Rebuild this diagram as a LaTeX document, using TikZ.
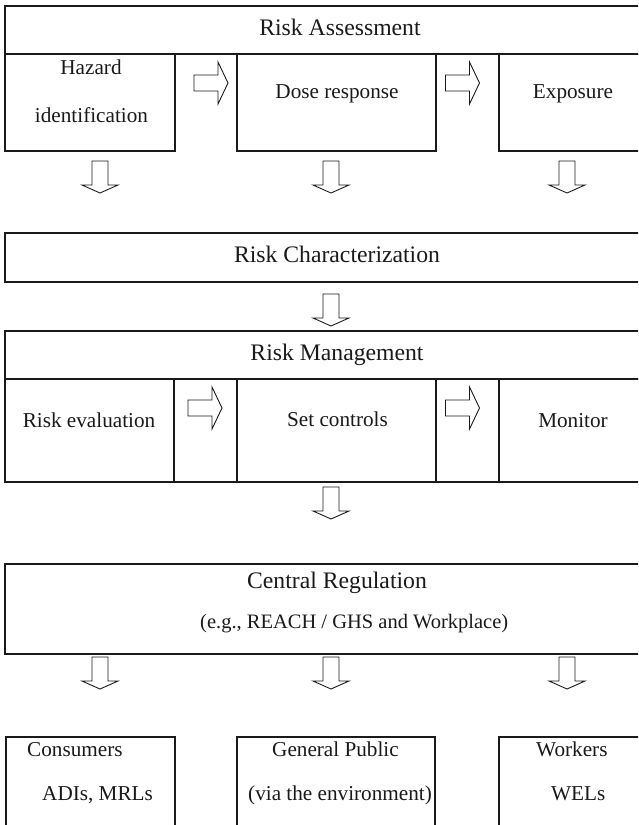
\documentclass[tikz,border=0pt]{standalone}
\usepackage{fontspec}
\setmainfont{Liberation Serif}
\definecolor{ink}{HTML}{1A1A1A}
\newcommand\blkright[1]{\draw[blk] (#1) ++(-17,-8) -- ++(24,0) -- ++(0,-13) -- ++(10,21) -- ++(-10,21) -- ++(0,-13) -- ++(-24,0) -- cycle;}
\newcommand\blkdown[1]{\draw[blk] (#1) ++(-8,0) -- ++(16,0) -- ++(0,24) -- ++(10,0) -- ++(-18,8) -- ++(-18,-8) -- ++(10,0) -- cycle;}
\begin{document}
\begin{tikzpicture}[x=1pt,y=-1pt,
  box/.style={draw=ink,line width=1.1pt,inner sep=0pt,outer sep=0pt,anchor=north west},
  blk/.style={draw=ink,line width=0.9pt,fill=white,line join=miter},
  hd/.style={text=ink,font=\fontsize{23.7}{28}\selectfont,inner sep=0pt,anchor=base},
  tx/.style={text=ink,font=\fontsize{21.2}{25}\selectfont,inner sep=0pt,anchor=base},
  txw/.style={tx,anchor=base west}]
\useasboundingbox (0,0) rectangle (638,825);
\clip (0,0) rectangle (638,825);
\fill[white] (0,0) rectangle (638,825);
% Risk Assessment
\node[box,minimum width=655pt,minimum height=48pt] (ra) at (5,6) {};
\node[box,minimum width=170pt,minimum height=97pt] (haz) at (5,54) {};
\node[box,minimum width=199pt,minimum height=97pt] (dose) at (237,54) {};
\node[box,minimum width=161pt,minimum height=97pt] (expo) at (499,54) {};
\node[hd] (tra) at (340,35) {Risk Assessment};
\node[tx] (thaz1) at (91,74) {Hazard};
\node[tx] (thaz2) at (91.5,122) {identification};
\node[tx] (tdose) at (337,98) {Dose response};
\node[tx] (texpo) at (573,98) {Exposure};
% Risk Characterization
\node[box,minimum width=655pt,minimum height=49pt] (rc) at (5,233) {};
\node[hd] (trc) at (337,262) {Risk Characterization};
% Risk Management
\node[box,minimum width=655pt,minimum height=48pt] (rm) at (5,331) {};
\node[box,minimum width=169pt,minimum height=103pt] (reval) at (5,379) {};
\node[box,minimum width=63pt,minimum height=103pt] (c1) at (174,379) {};
\node[box,minimum width=199pt,minimum height=103pt] (setc) at (237,379) {};
\node[box,minimum width=63pt,minimum height=103pt] (c2) at (436,379) {};
\node[box,minimum width=161pt,minimum height=103pt] (mon) at (499,379) {};
\node[hd] (trm) at (337,360) {Risk Management};
\node[tx] (treval) at (89,427) {Risk evaluation};
\node[tx] (tsetc) at (337.5,426) {Set controls};
\node[tx] (tmon) at (573,427) {Monitor};
% Central Regulation
\node[box,minimum width=655pt,minimum height=90pt] (cr) at (5,564) {};
\node[hd] (tcr) at (337,588) {Central Regulation};
\node[txw,font=\fontsize{20.5}{24}\selectfont] (tcr2) at (200,628) {(e.g., REACH / GHS and Workplace)};
% Bottom boxes
\node[box,minimum width=169pt,minimum height=120pt] (cons) at (6,737) {};
\node[box,minimum width=198pt,minimum height=120pt] (gp) at (237,737) {};
\node[box,minimum width=161pt,minimum height=120pt] (work) at (499,737) {};
\node[txw] (tcons1) at (27,756) {Consumers};
\node[txw] (tcons2) at (42,800) {ADIs, MRLs};
\node[txw] (tgp1) at (272,756) {General Public};
\node[txw] (tgp2) at (248,800) {(via the environment)};
\node[txw] (twork1) at (536,756) {Workers};
\node[txw] (twork2) at (551,800) {WELs};
% block arrows
\coordinate (a1) at (211,83);
\coordinate (a2) at (462.5,83);
\coordinate (a3) at (205,408);
\coordinate (a4) at (462.5,408);
\coordinate (d1) at (100,161);
\coordinate (d2) at (331,161);
\coordinate (d3) at (567,161);
\coordinate (d4) at (331,294);
\coordinate (d5) at (331,487);
\coordinate (d6) at (100,657);
\coordinate (d7) at (331,657);
\coordinate (d8) at (567,657);
\blkright{a1}\blkright{a2}\blkright{a3}\blkright{a4}
\blkdown{d1}\blkdown{d2}\blkdown{d3}\blkdown{d4}
\blkdown{d5}\blkdown{d6}\blkdown{d7}\blkdown{d8}
\end{tikzpicture}
\end{document}
